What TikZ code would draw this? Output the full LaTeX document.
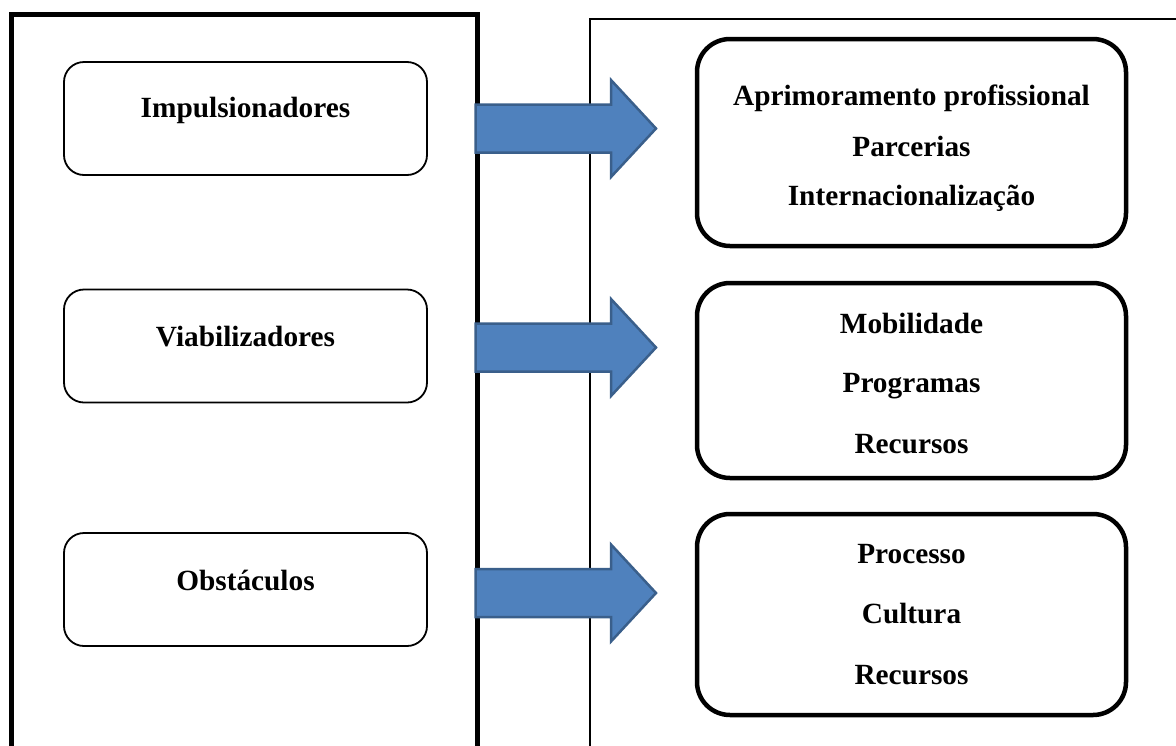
\documentclass[tikz,border=0pt]{standalone}
\usepackage{fontspec}
\setmainfont{Liberation Serif}
\definecolor{arrowfill}{HTML}{4F81BD}
\definecolor{arrowline}{HTML}{3A5F8B}
\begin{document}
\begin{tikzpicture}[x=1pt,y=-1pt,
  txt/.style={font=\fontsize{29.3}{35}\selectfont\bfseries, inner sep=0pt, anchor=base},
  leftbox/.style={draw=black, line width=1.8pt, rounded corners=20pt, minimum width=363pt, minimum height=113pt, inner sep=0pt},
  rightbox/.style={draw=black, line width=4.5pt, rounded corners=33pt, minimum width=429pt, inner sep=0pt},
  blockarrow/.style={fill=arrowfill, draw=arrowline, line width=2.5pt, line join=miter}
]
\useasboundingbox (0,0) rectangle (1176,745);
% frames
\draw[line width=5pt] (11,760) -- (11,14.5) -- (477,14.5) -- (477,760);
\draw[line width=2pt] (590,760) -- (590,18.5) -- (1190,18.5);
% left boxes
\node[leftbox] (imp) at (245.5,118.5) {};
\node[leftbox] (via) at (245.5,346) {};
\node[leftbox] (obs) at (245.5,589.5) {};
\node[txt] (impt) at (245.5,117) {Impulsionadores};
\node[txt] (viat) at (245.5,346) {Viabilizadores};
\node[txt] (obst) at (245.5,590) {Obstáculos};
% right boxes
\node[rightbox, minimum height=207pt] (r1) at (911.5,142.5) {};
\node[rightbox, minimum height=195pt] (r2) at (911.5,380.5) {};
\node[rightbox, minimum height=201pt] (r3) at (911.5,614.5) {};
\node[txt] (r1a) at (911.5,105) {Aprimoramento profissional};
\node[txt] (r1b) at (911.5,156) {Parcerias};
\node[txt] (r1c) at (911.5,205) {Internacionalização};
\node[txt] (r2a) at (911.5,333) {Mobilidade};
\node[txt] (r2b) at (911.5,392) {Programas};
\node[txt] (r2c) at (911.5,453) {Recursos};
\node[txt] (r3a) at (911.5,563) {Processo};
\node[txt] (r3b) at (911.5,623) {Cultura};
\node[txt] (r3c) at (911.5,684) {Recursos};
% block arrows
\foreach \cy in {128.5,347.5,593}{
  \draw[blockarrow] (475.5,\cy-24) -- (611,\cy-24) -- (611,\cy-48.5) -- (656,\cy) -- (611,\cy+48.5) -- (611,\cy+24) -- (475.5,\cy+24) -- cycle;
}
\end{tikzpicture}
\end{document}
